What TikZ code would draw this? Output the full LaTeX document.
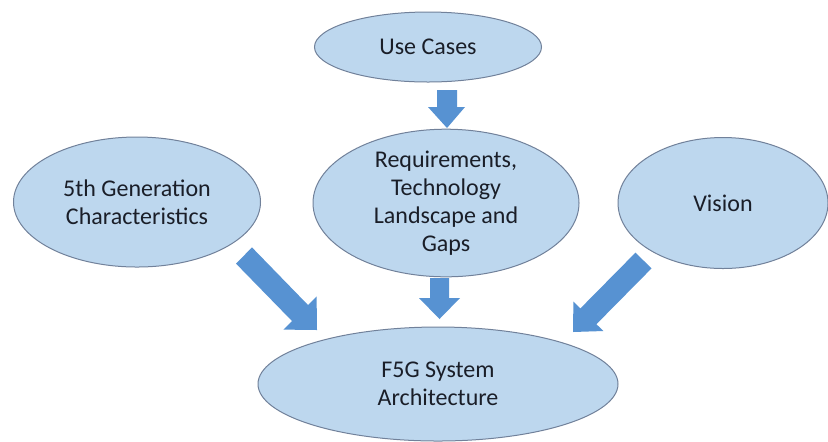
\documentclass[tikz,border=0pt]{standalone}
\usepackage{fontspec}
\setmainfont{Carlito}
\usetikzlibrary{shapes.geometric}
\definecolor{ellfill}{HTML}{BDD7EE}
\definecolor{elldraw}{HTML}{71819A}
\definecolor{arrfill}{HTML}{5792D2}
\definecolor{txt}{HTML}{1A1E28}
\tikzset{
  bubble/.style={ellipse, fill=ellfill, draw=elldraw, line width=0.5pt,
    inner sep=0pt, align=center, text=txt,
    font=\fontsize{12}{14}\selectfont},
  blockarrow/.style={fill=arrfill, draw=none}
}
\begin{document}
\begin{tikzpicture}[x=0.5pt,y=-0.5pt]
\useasboundingbox[fill=white] (0,0) rectangle (828,441);
\node[bubble, minimum width=113.5pt, minimum height=35pt] (uc) at (428,47) {Use Cases};
\node[bubble, minimum width=133pt, minimum height=65pt] (req) at (446,203) {Requirements,\\Technology\\Landscape and\\Gaps};
\node[bubble, minimum width=123.5pt, minimum height=65pt] (gen) at (137,202) {5th Generation\\Characteristics};
\node[bubble, minimum width=105pt, minimum height=65.5pt] (vis) at (723,203) {Vision};
\node[bubble, minimum width=180pt, minimum height=57pt] (f5g) at (438,384) {F5G System\\Architecture};
% top arrow: Use Cases -> Requirements
\fill[blockarrow] (437,90) -- (457,90) -- (457,107) -- (465,107) -- (447,128) -- (428,107) -- (437,107) -- cycle;
% middle arrow: Requirements -> F5G
\fill[blockarrow] (430,278) -- (449,278) -- (449,298) -- (460,298) -- (439.5,319) -- (419,298) -- (430,298) -- cycle;
% left arrow: 5th Gen -> F5G
\fill[blockarrow] (252,247.4) -- (308,305) -- (316.6,296.4) -- (317,330) -- (283.4,329.6) -- (292,321) -- (236,263.6) -- cycle;
% right arrow: Vision -> F5G
\fill[blockarrow] (635.5,252.6) -- (580.4,308.4) -- (573.4,301.6) -- (573,332) -- (603.4,331) -- (596.4,324.2) -- (651.5,268.4) -- cycle;
\end{tikzpicture}
\end{document}
